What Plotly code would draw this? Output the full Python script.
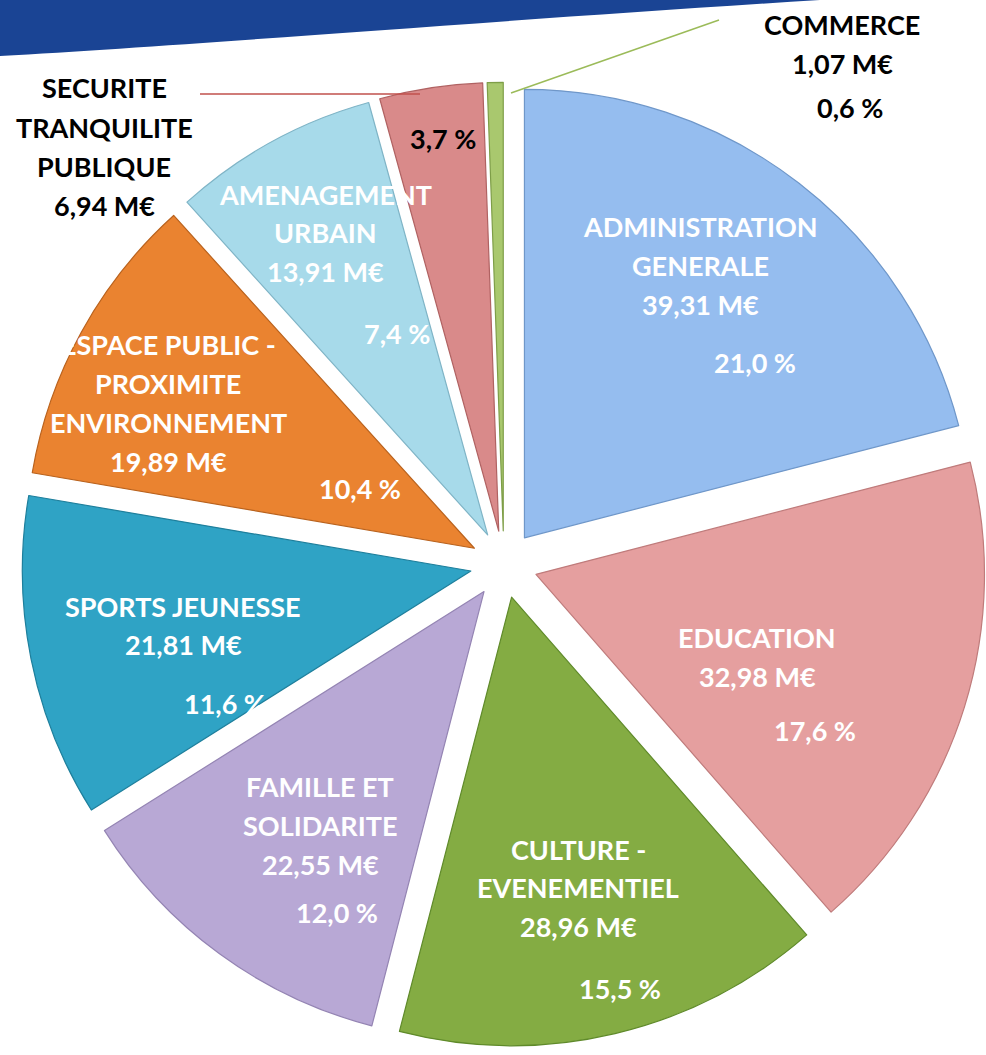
import plotly.graph_objects as go

# ---- data ----
categories = [
    "ADMINISTRATION GENERALE", "EDUCATION", "CULTURE - EVENEMENTIEL",
    "FAMILLE ET SOLIDARITE", "SPORTS JEUNESSE",
    "ESPACE PUBLIC - PROXIMITE ENVIRONNEMENT", "AMENAGEMENT URBAIN",
    "SECURITE TRANQUILITE PUBLIQUE", "COMMERCE",
]
label_lines = [
    ["ADMINISTRATION", "GENERALE"], ["EDUCATION"], ["CULTURE -", "EVENEMENTIEL"],
    ["FAMILLE ET", "SOLIDARITE"], ["SPORTS JEUNESSE"],
    ["ESPACE PUBLIC -", "PROXIMITE", "ENVIRONNEMENT"], ["AMENAGEMENT", "URBAIN"],
    ["SECURITE", "TRANQUILITE", "PUBLIQUE"], ["COMMERCE"],
]
values_meur = [39.31, 32.98, 28.96, 22.55, 21.81, 19.89, 13.91, 6.94, 1.07]
percents = [21.0, 17.6, 15.5, 12.0, 11.6, 10.4, 7.4, 3.7, 0.6]

# ---- styles / layout ----
colors = ["#95BDEF", "#E59F9F", "#84AC43", "#B8A8D5", "#2FA3C5",
          "#EA8330", "#A7DAEA", "#D98A8A", "#A9C86E"]
edge_colors = ["#6F97C9", "#BF7B7B", "#5F8A2A", "#9484B3", "#1E7F9C",
               "#B9621D", "#7FB4C6", "#B06262", "#7E9E48"]
W, H = 986, 1055

# text block placement (pixel coords): x center, first line y, line gap, pct x, pct y, colour
label_pos = [
    (700, 226, 39, 755, 362, "white"),
    (757, 637, 39, 815, 730, "white"),
    (578, 849, 38.5, 620, 988, "white"),
    (320, 786, 39, 337, 912, "white"),
    (183, 606, 38, 225, 703, "white"),
    (168, 345, 38.7, 360, 488, "white"),
    (325, 194, 38.5, 397, 334, "white"),
    (104, 88, 39.3, 443, 138, "black"),
    (842, 24, 40, 850, 108, "black"),
]


def px(x):
    return x / W


def py(y):
    return 1 - y / H


fig = go.Figure(go.Pie(
    labels=categories,
    values=values_meur,
    sort=False,
    direction="clockwise",
    rotation=0,
    pull=[0.075] * len(values_meur),
    marker=dict(colors=colors, line=dict(color=edge_colors, width=1.2)),
    textinfo="none",
    hoverinfo="label+value",
    showlegend=False,
    domain=dict(x=[0.022, 1.0], y=[0.0, 0.93]),
))

annotations = []
font_family = "Lato"
fsize = 27
for lines, val, pct, (x0, y0, gap, xp, yp, col) in zip(label_lines, values_meur, percents, label_pos):
    texts = lines + [f"{val:.2f}".replace(".", ",") + " M€"]
    for i, t in enumerate(texts):
        annotations.append(dict(
            x=px(x0), y=py(y0 + i * gap), xref="paper", yref="paper",
            text=f"<b>{t}</b>", showarrow=False, xanchor="center", yanchor="middle",
            font=dict(family=font_family, size=fsize, color=col),
        ))
    annotations.append(dict(
        x=px(xp), y=py(yp), xref="paper", yref="paper",
        text=f"<b>{pct:.1f}".replace(".", ",") + " %</b>", showarrow=False,
        xanchor="center", yanchor="middle",
        font=dict(family=font_family, size=fsize, color=col),
    ))

# banner path (paper coords)
pts = [(0, 0), (0, 56), (200, 45), (500, 20), (820, 0)]
banner_path = (f"M {px(pts[0][0])},{py(pts[0][1])} L {px(pts[1][0])},{py(pts[1][1])} "
               f"C {px(pts[2][0])},{py(pts[2][1])} {px(pts[3][0])},{py(pts[3][1])} "
               f"{px(pts[4][0])},{py(pts[4][1])} Z")

shapes = [
    dict(type="path", path=banner_path, xref="paper", yref="paper",
         fillcolor="#1A4494", line=dict(width=0), layer="below"),
    dict(type="line", xref="paper", yref="paper",
         x0=px(200), y0=py(94), x1=px(420), y1=py(94),
         line=dict(color="#C0504D", width=1.5)),
    dict(type="line", xref="paper", yref="paper",
         x0=px(719), y0=py(20), x1=px(511), y1=py(93),
         line=dict(color="#9BBB59", width=1.5)),
]

fig.update_layout(
    width=W, height=H,
    margin=dict(l=0, r=0, t=0, b=0),
    paper_bgcolor="white", plot_bgcolor="white",
    annotations=annotations, shapes=shapes,
)

fig.write_html("out.html", config={"displayModeBar": False},
               post_script="document.body.style.margin='0';")
